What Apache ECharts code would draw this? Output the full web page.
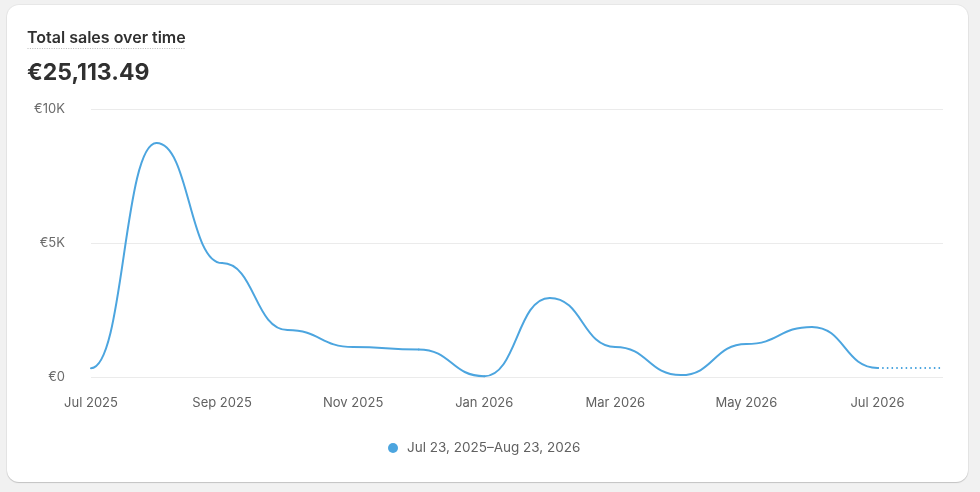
<!DOCTYPE html>
<html>
<head>
<meta charset="utf-8">
<script src="https://cdn.jsdelivr.net/npm/echarts@6/dist/echarts.min.js"></script>
<style>
  html, body { margin: 0; padding: 0; background: #f1f1f1; }
  #card { position: absolute; left: 7px; top: 5px; width: 961px; height: 477px; background: #fff; border-radius: 12px;
          box-shadow: 0 1px 1px rgba(0,0,0,0.16), 0 0 0 1px rgba(0,0,0,0.04); }
  #chart { position: absolute; left: 0; top: 0; width: 980px; height: 492px; }
</style>
</head>
<body>
<div id="card"></div>
<div id="chart"></div>
<script>
const categories = ['Jul 2025','Aug 2025','Sep 2025','Oct 2025','Nov 2025','Dec 2025','Jan 2026','Feb 2026','Mar 2026','Apr 2026','May 2026','Jun 2026','Jul 2026','Aug 2026'];
const salesValues = [330, 8730, 4250, 1750, 1120, 1030, 30, 2950, 1120, 70, 1230, 1870, 340, null];
const partialValues = [null, null, null, null, null, null, null, null, null, null, null, null, 340, 340];
const seriesName = 'Jul 23, 2025–Aug 23, 2026';
const chartTitle = 'Total sales over time';
const totalLabel = '€25,113.49';

const chart = echarts.init(document.getElementById('chart'), null, { renderer: 'canvas' });
const font = 'Inter, "Noto Sans", sans-serif';
const lineColor = '#4ca5df';

// each item carries its own value and the next one, so a segment can be drawn between them
const segmentData = salesValues.map((v, i) => [i, v, i + 1 < salesValues.length ? salesValues[i + 1] : null]);

function renderSegment(params, api) {
  const i = api.value(0), v = api.value(1), nv = api.value(2);
  if (v == null || nv == null || isNaN(v) || isNaN(nv)) return null;
  const p0 = api.coord([i, v]);
  const p1 = api.coord([i + 1, nv]);
  const mx = (p0[0] + p1[0]) / 2;
  return {
    type: 'bezierCurve',
    shape: { x1: p0[0], y1: p0[1], x2: p1[0], y2: p1[1], cpx1: mx, cpy1: p0[1], cpx2: mx, cpy2: p1[1] },
    style: { stroke: lineColor, lineWidth: 2, fill: null, lineCap: 'round' },
    silent: true
  };
}

chart.setOption({
  backgroundColor: 'transparent',
  textStyle: { fontFamily: font },
  title: [
    { text: chartTitle, left: 27, top: 29, padding: 0,
      textStyle: { fontSize: 16, fontWeight: 600, color: '#303030', lineHeight: 19, fontFamily: font } },
    { text: totalLabel, left: 27, top: 59, padding: 0,
      textStyle: { fontSize: 23, fontWeight: 700, color: '#303030', lineHeight: 28, fontFamily: font } }
  ],
  graphic: [
    { type: 'line', shape: { x1: 27.5, y1: 48.5, x2: 185, y2: 48.5 },
      style: { stroke: '#b8b8b8', lineWidth: 1, lineDash: [1, 1.4] }, silent: true }
  ],
  legend: {
    data: [seriesName],
    bottom: 32, left: 383,
    icon: 'circle', itemWidth: 10, itemHeight: 10,
    textStyle: { fontSize: 13.5, color: '#616161', fontFamily: font, padding: [0, 0, 0, 4] }
  },
  grid: { left: 91, right: 37, top: 109, bottom: 115 },
  xAxis: {
    type: 'category', data: categories, boundaryGap: false,
    axisLine: { show: false }, axisTick: { show: false },
    axisLabel: { interval: 1, margin: 20, fontSize: 13, color: '#616161', fontFamily: font },
    splitLine: { show: false }
  },
  yAxis: {
    type: 'value', min: 0, max: 10000, interval: 5000,
    axisLine: { show: false }, axisTick: { show: false },
    axisLabel: { margin: 26, fontSize: 13, color: '#6b6b6b', fontFamily: font,
      formatter: v => v === 0 ? '€0' : '€' + (v / 1000) + 'K' },
    splitLine: { lineStyle: { color: '#ebebeb', width: 1 } }
  },
  series: [
    { name: seriesName, type: 'custom', data: segmentData, renderItem: renderSegment,
      encode: { x: 0, y: 1 }, itemStyle: { color: lineColor }, silent: true },
    { name: 'partial', type: 'line', data: partialValues, smooth: false,
      showSymbol: false, color: lineColor,
      lineStyle: { width: 2, color: lineColor, type: [1.5, 3.2] }, silent: true }
  ],
  animation: false
});
</script>
</body>
</html>
